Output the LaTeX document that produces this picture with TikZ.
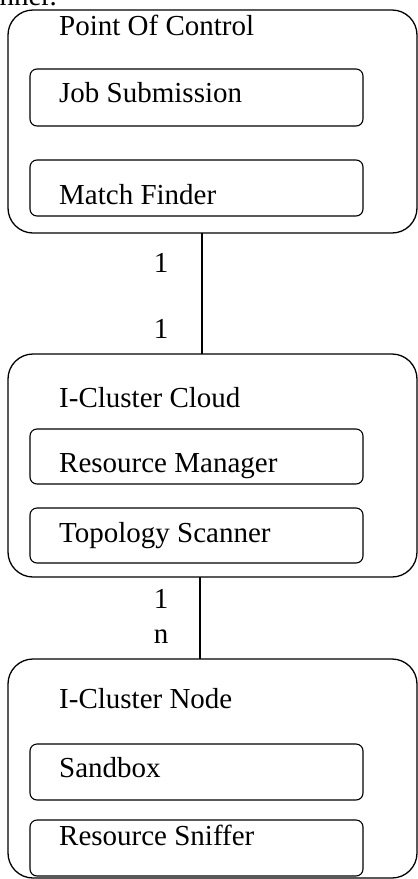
\documentclass[tikz,border=0pt]{standalone}
\usepackage{fontspec}
\setmainfont{Liberation Serif}
\begin{document}
\begin{tikzpicture}[x=1pt,y=-1pt,
  outerbox/.style={draw,line width=1.3pt,rounded corners=25pt,inner sep=0pt,outer sep=0pt,minimum width=409pt},
  innerbox/.style={draw,line width=1.1pt,rounded corners=7pt,inner sep=0pt,outer sep=0pt,minimum width=333pt},
  lbl/.style={anchor=base west,inner sep=0pt,font=\fontsize{29}{34}\selectfont},
  mult/.style={anchor=base,inner sep=0pt,font=\fontsize{29}{34}\selectfont},
  conn/.style={line width=1.1pt}]
\useasboundingbox (0,0) rectangle (418,879);
\clip (0,0) rectangle (418,879);
% cut-off caption text at the very top
\node[anchor=base east,inner sep=0pt,font=\fontsize{29}{34}\selectfont] (cap) at (57,5) {nner.};
% Point Of Control
\node[outerbox,minimum height=223pt] (poc) at (212.5,121.5) {};
\node[lbl] (poct) at (59,35) {Point Of Control};
\node[innerbox,minimum height=57pt] (job) at (196.5,97.5) {};
\node[lbl] (jobt) at (59,102) {Job Submission};
\node[innerbox,minimum height=56pt] (match) at (196.5,188) {};
\node[lbl] (matcht) at (59,204) {Match Finder};
% I-Cluster Cloud
\node[outerbox,minimum height=223pt] (cloud) at (212.5,465.5) {};
\node[lbl] (cloudt) at (59,407) {I-Cluster Cloud};
\node[innerbox,minimum height=55pt] (rm) at (196.5,456.5) {};
\node[lbl] (rmt) at (59,472) {Resource Manager};
\node[innerbox,minimum height=55pt] (ts) at (196.5,535.5) {};
\node[lbl] (tst) at (59,542) {Topology Scanner};
% I-Cluster Node
\node[outerbox,minimum height=219pt] (cnode) at (212.5,768.5) {};
\node[lbl] (cnodet) at (59,708) {I-Cluster Node};
\node[innerbox,minimum height=56pt] (sb) at (196.5,772) {};
\node[lbl] (sbt) at (59,777) {Sandbox};
\node[innerbox,minimum height=56pt] (rs) at (196.5,848) {};
\node[lbl] (rst) at (59,845) {Resource Sniffer};
% connectors
\coordinate (c1) at (202,0);
\coordinate (c2) at (200,0);
\draw[conn] (c1 |- poc.south) -- (c1 |- cloud.north);
\draw[conn] (c2 |- cloud.south) -- (c2 |- cnode.north);
\node[mult] (m1) at (161,272) {1};
\node[mult] (m2) at (161,338) {1};
\node[mult] (m3) at (161,608) {1};
\node[mult] (m4) at (161,643) {n};
\end{tikzpicture}
\end{document}
